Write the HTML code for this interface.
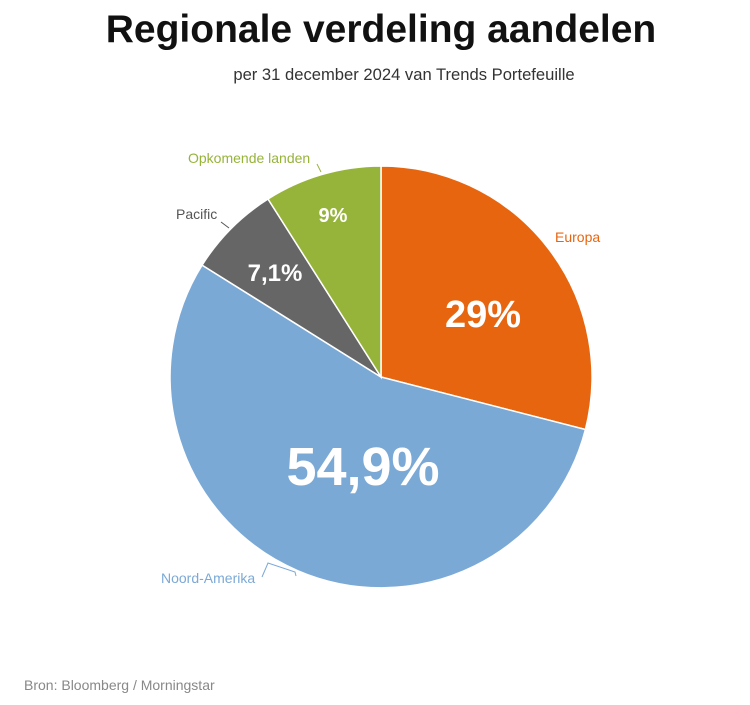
<!DOCTYPE html>
<html><head><meta charset="utf-8"><style>
html,body{margin:0;padding:0;background:#fff;}
body{width:750px;height:700px;overflow:hidden;font-family:"Liberation Sans",sans-serif;}
</style></head><body>
<svg width="750" height="700" xmlns="http://www.w3.org/2000/svg" font-family="Liberation Sans, sans-serif">
<text x="381" y="42" text-anchor="middle" font-size="39" font-weight="bold" fill="#111">Regionale verdeling aandelen</text>
<text x="404" y="80" text-anchor="middle" font-size="16.6" fill="#333">per 31 december 2024 van Trends Portefeuille</text>
<g stroke="#fff" stroke-width="1.5">
<path d="M381,377 L381,166 A211,211 0 0 1 585.4,429.5 Z" fill="#E8650F"/>
<path d="M381,377 L585.4,429.5 A211,211 0 1 1 202.1,265.1 Z" fill="#7BA9D6"/>
<path d="M381,377 L202.1,265.1 A211,211 0 0 1 268,199 Z" fill="#666666"/>
<path d="M381,377 L268,199 A211,211 0 0 1 381,166 Z" fill="#96B43A"/>
</g>
<text x="483" y="327" text-anchor="middle" font-size="38" font-weight="bold" fill="#fff">29%</text>
<text x="363" y="485" text-anchor="middle" font-size="54" font-weight="bold" fill="#fff">54,9%</text>
<text x="275" y="281" text-anchor="middle" font-size="24" font-weight="bold" fill="#fff">7,1%</text>
<text x="333" y="222" text-anchor="middle" font-size="20" font-weight="bold" fill="#fff">9%</text>
<text x="188" y="163" font-size="14" fill="#96B43A">Opkomende landen</text>
<line x1="317" y1="164" x2="321" y2="172" stroke="#96B43A" stroke-width="1"/>
<text x="176" y="219" font-size="14" fill="#555">Pacific</text>
<line x1="221" y1="222" x2="229" y2="228" stroke="#555" stroke-width="1"/>
<text x="555" y="242" font-size="14" fill="#E8650F">Europa</text>
<text x="161" y="583" font-size="14" fill="#7BA9D6">Noord-Amerika</text>
<polyline points="262,577 268,563 295,572 296,576" fill="none" stroke="#7BA9D6" stroke-width="1"/>
<text x="24" y="690" font-size="14" fill="#888">Bron: Bloomberg / Morningstar</text>
</svg>
</body></html>
